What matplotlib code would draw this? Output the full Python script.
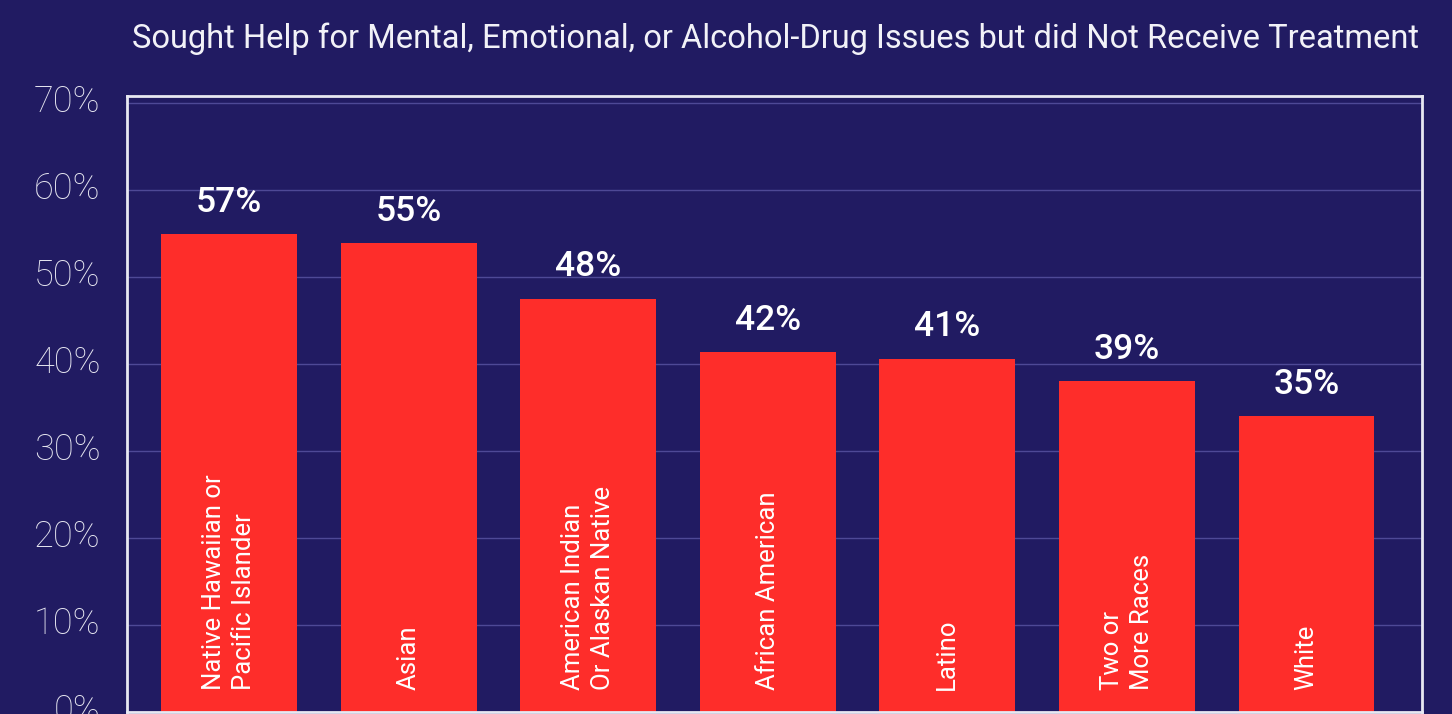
import matplotlib.pyplot as plt
from matplotlib.transforms import ScaledTranslation

groups = [
    "Native Hawaiian or\nPacific Islander",
    "Asian",
    "American Indian\nOr Alaskan Native",
    "African American",
    "Latino",
    "Two or\nMore Races",
    "White",
]
# bar heights as drawn, and the rounded labels printed above them
heights = [54.9, 53.9, 47.5, 41.4, 40.6, 38.0, 34.0]
value_labels = ["57%", "55%", "48%", "42%", "41%", "39%", "35%"]
yticks = [0, 10, 20, 30, 40, 50, 60, 70]

BG = "#211b62"
RED = "#fe2d2a"
FONT = ["Roboto", "DejaVu Sans"]

plt.rcParams["font.family"] = FONT

fig = plt.figure(figsize=(14.52, 7.14), dpi=100, facecolor=BG)
ax = fig.add_axes([127 / 1452, 2 / 714, 1295 / 1452, 616 / 714])
ax.set_facecolor(BG)

x = list(range(len(groups)))
ax.bar(x, heights, width=0.757, color=RED, zorder=2)

for xi, h, lab in zip(x, heights, value_labels):
    ax.annotate(lab, (xi, h), xytext=(0, 11), textcoords="offset points",
                ha="center", va="bottom", color="white", fontsize=25.5,
                fontweight="medium")

for xi, g in zip(x, groups):
    ax.text(xi, 2.5, g, rotation=90, ha="center", va="bottom",
            multialignment="left", linespacing=1.3, color="white",
            fontsize=18.5, zorder=3)

ax.set_xlim(-0.568, 6.643)
ax.set_ylim(0, 70.8)
ax.set_xticks([])
ax.set_yticks(yticks)
ax.set_yticklabels([f"{t}%" for t in yticks])
ax.tick_params(axis="y", length=0, pad=19, labelsize=26, labelcolor="#e6e6f0")
lift = ScaledTranslation(0, 0.05, fig.dpi_scale_trans)
for t in ax.get_yticklabels():
    t.set_fontweight("light")
    t.set_transform(t.get_transform() + lift)

ax.grid(axis="y", color="#4e4996", linewidth=1, zorder=1)
for s in ax.spines.values():
    s.set_color("#e8e8f2")
    s.set_linewidth(2)

fig.text(776 / 1452, 1 - 39 / 714,
         "Sought Help for Mental, Emotional, or Alcohol-Drug Issues but did Not Receive Treatment",
         ha="center", va="center", color="#f2f2f8", fontsize=23.5)

fig.savefig("out.png", dpi=100, facecolor=BG)
